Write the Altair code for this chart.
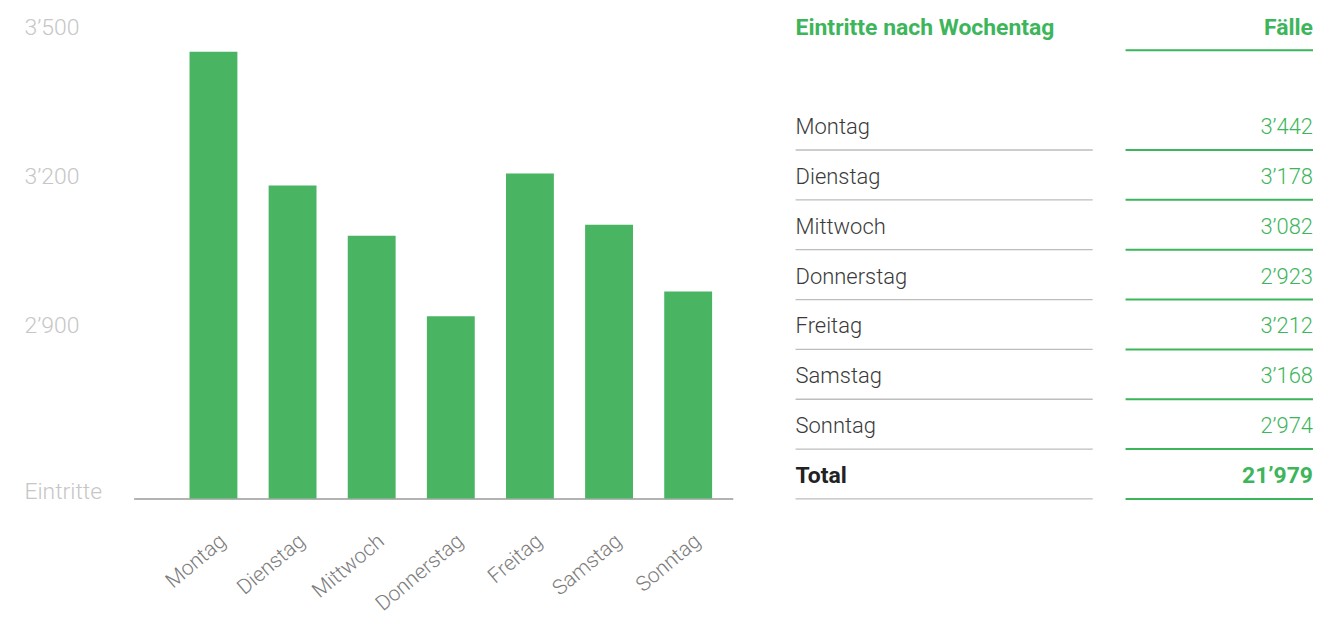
import altair as alt
import pandas as pd

# ---- data ----
days = ["Montag", "Dienstag", "Mittwoch", "Donnerstag", "Freitag", "Samstag", "Sonntag"]
bar_values = [3448, 3179, 3078, 2916, 3203, 3100, 2966]          # bar heights as drawn
table_values = [3442, 3178, 3082, 2923, 3212, 3168, 2974]        # numbers in the table
total_value = 21979
y_ticks = [2900, 3200, 3500]
y_domain = [2550, 3500]
header_left = "Eintritte nach Wochentag"
header_right = "Fälle"
total_label = "Total"
axis_title = "Eintritte"

FONT = "Roboto"
GREEN = "#3db55b"
BAR_GREEN = "#49b462"


def fmt(v):
    return f"{v:,}".replace(",", "\u2019")


bars_df = pd.DataFrame({"day": days, "value": bar_values})

row_order = [header_left, " "] + days + [total_label]
rows = [{"row": header_left, "label": header_left, "val": header_right, "kind": "header"}]
for d, v in zip(days, table_values):
    rows.append({"row": d, "label": d, "val": fmt(v), "kind": "day"})
rows.append({"row": total_label, "label": total_label, "val": fmt(total_value), "kind": "total"})
table_df = pd.DataFrame(rows)

# ---- bar chart ----
PLOT_W, PLOT_H = 601, 474

bars = alt.Chart(bars_df).mark_bar(color=BAR_GREEN).encode(
    x=alt.X(
        "day:N",
        sort=days,
        scale=alt.Scale(paddingInner=0.395, paddingOuter=0.484, align=0.73),
        axis=alt.Axis(
            title=None,
            ticks=False,
            tickSize=0,
            domainColor="#9a9a9a",
            domainWidth=1.5,
            labelAngle=-40,
            labelAlign="right",
            labelBaseline="middle",
            labelPadding=40,
            labelOffset=10,
            labelFont=FONT,
            labelFontSize=21,
            labelFontWeight=300,
            labelColor="#7d7d7d",
        ),
    ),
    y=alt.Y(
        "value:Q",
        scale=alt.Scale(domain=y_domain, nice=False, zero=False),
        axis=alt.Axis(
            values=y_ticks,
            grid=False,
            domain=False,
            ticks=False,
            tickSize=0,
            labelPadding=110,
            labelOffset=1.5,
            labelAlign="left",
            labelFlush=False,
            labelFont=FONT,
            labelFontSize=23,
            labelFontWeight=300,
            labelColor="#c6c6c6",
            labelExpr="replace(format(datum.value, ','), ',', '\u2019')",
            title=axis_title,
            titleAngle=0,
            titleAlign="left",
            titleBaseline="alphabetic",
            titleX=-110,
            titleY=PLOT_H,
            titleFont=FONT,
            titleFontSize=23,
            titleFontWeight=300,
            titleColor="#c6c6c6",
        ),
    ),
    y2=alt.datum(y_domain[0]),
).properties(width=PLOT_W, height=PLOT_H)

# ---- table ----
TW, TH = 519, 450
yrow = alt.Y("row:N", scale=alt.Scale(domain=row_order, type="point", padding=0), axis=None)

base = alt.Chart(table_df).properties(width=TW, height=TH)

head_l = base.transform_filter(alt.datum.kind == "header").mark_text(
    align="left", baseline="middle", dy=2.5, font=FONT, fontSize=23, fontWeight="bold", color=GREEN
).encode(y=yrow, x=alt.value(0), text="label:N")
head_r = base.transform_filter(alt.datum.kind == "header").mark_text(
    align="right", baseline="middle", dy=2.5, font=FONT, fontSize=23, fontWeight="bold", color=GREEN
).encode(y=yrow, x=alt.value(TW), text="val:N")

day_l = base.transform_filter(alt.datum.kind == "day").mark_text(
    align="left", baseline="middle", dy=1.5, font=FONT, fontSize=22, fontWeight=300, color="#3a3a3a"
).encode(y=yrow, x=alt.value(0), text="label:N")
day_r = base.transform_filter(alt.datum.kind == "day").mark_text(
    align="right", baseline="middle", dy=1.5, font=FONT, fontSize=22, fontWeight=300, color=GREEN
).encode(y=yrow, x=alt.value(TW), text="val:N")

tot_l = base.transform_filter(alt.datum.kind == "total").mark_text(
    align="left", baseline="middle", dy=1.5, font=FONT, fontSize=23, fontWeight="bold", color="#222222"
).encode(y=yrow, x=alt.value(0), text="label:N")
tot_r = base.transform_filter(alt.datum.kind == "total").mark_text(
    align="right", baseline="middle", dy=1.5, font=FONT, fontSize=23, fontWeight="bold", color=GREEN
).encode(y=yrow, x=alt.value(TW), text="val:N")

gray_rules = base.transform_filter(alt.datum.kind != "header").mark_rule(
    color="#bdbdbd", strokeWidth=1.3, yOffset=24.5
).encode(y=yrow, x=alt.value(0), x2=alt.value(298))
green_rules = base.mark_rule(color=GREEN, strokeWidth=2, yOffset=24.5).encode(
    y=yrow, x=alt.value(331), x2=alt.value(TW)
)

table = alt.layer(gray_rules, green_rules, head_l, head_r, day_l, day_r, tot_l, tot_r)

chart = (
    alt.hconcat(bars, table, spacing=62)
    .properties(padding={"left": 16, "top": 7, "right": 0, "bottom": 0}, background="white")
    .configure_view(stroke=None)
)

chart.save("out.html", embed_options={"renderer": "svg", "actions": False})
